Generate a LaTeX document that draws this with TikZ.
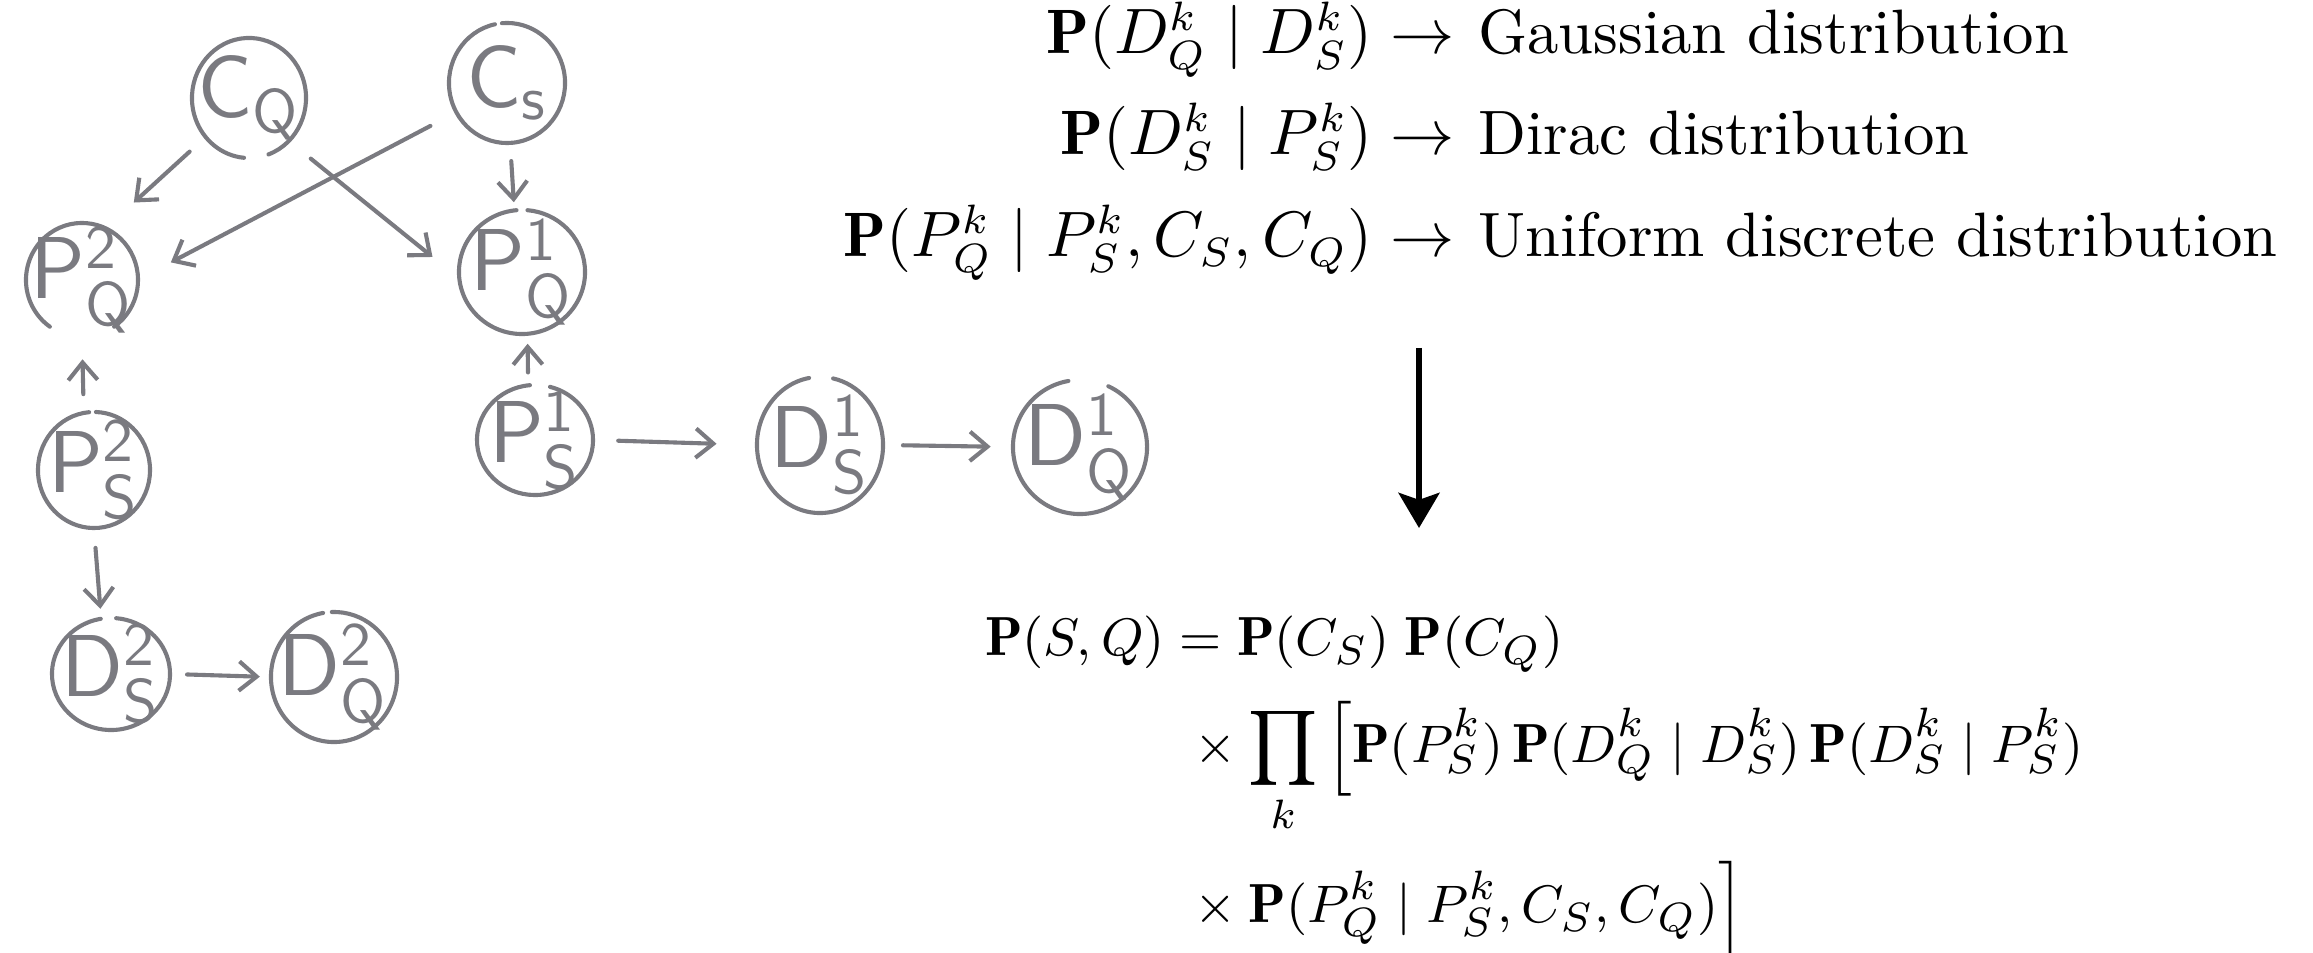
\documentclass[tikz,border=0pt]{standalone}
\usepackage{amsmath}
\usepackage{fontspec}
\usetikzlibrary{shapes.geometric,arrows.meta,calc}
\definecolor{pen}{RGB}{122,122,128}
\tikzset{
  hnode/.style={ellipse, inner sep=0pt, draw=none},
  hline/.style={draw=pen, line width=0.7pt, line cap=round},
  harrow/.style={hline, -{Straight Barb[length=3pt,width=5pt,line width=0.7pt]}},
  hlab/.style={text=pen, inner sep=0pt, font=\sffamily\fontsize{15}{17}\selectfont},
  eqtext/.style={font=\fontsize{10.7}{13}\selectfont, inner sep=0pt, anchor=base west},
  eqmath/.style={font=\fontsize{10.7}{13}\selectfont, inner sep=0pt, anchor=base east},
  joint/.style={font=\fontsize{9.4}{12}\selectfont, inner sep=0pt, anchor=base west},
  bigarrow/.style={line width=0.9pt, -{Stealth[length=6pt,width=7pt,inset=1.2pt]}}
}
\newcommand\hcirc[8]{%
  \node[hnode, minimum width={2*#4*0.06mm}, minimum height={2*#5*0.06mm}] (#1) at (#2,#3) {};
  \node[hlab] (#1-lab) at (#1.center) {#8};
  \draw[hline] (#1.center) ++(#7:{#4*0.06mm} and {#5*0.06mm})
     arc[start angle=#7, end angle={#6+360}, x radius={#4*0.06mm}, y radius={#5*0.06mm}];
}
\begin{document}
\begin{tikzpicture}[x=0.006cm,y=-0.006cm]
\useasboundingbox (0,0) rectangle (2313,953);

% hand-drawn graph
\hcirc{CQ}{249}{98}{57}{60}{265}{290}{$\mathsf{C}_{\mathsf{Q}}$}
\hcirc{CS}{507}{83}{58}{60}{95}{102}{$\mathsf{C}_{\mathsf{s}}$}
\hcirc{PQ2}{82}{280}{56}{57}{235}{305}{$\mathsf{P}^{\mathsf{2}}_{\mathsf{Q}}$}
\hcirc{PQ1}{522}{272}{63}{62}{85}{95}{$\mathsf{P}^{\mathsf{1}}_{\mathsf{Q}}$}
\hcirc{PS2}{94}{470}{56}{58}{88}{95}{$\mathsf{P}^{\mathsf{2}}_{\mathsf{S}}$}
\hcirc{PS1}{535}{440}{58}{55}{75}{95}{$\mathsf{P}^{\mathsf{1}}_{\mathsf{S}}$}
\hcirc{DS1}{820}{445}{63}{68}{78}{100}{$\mathsf{D}^{\mathsf{1}}_{\mathsf{S}}$}
\hcirc{DQ1}{1080}{447}{67}{67}{65}{100}{$\mathsf{D}^{\mathsf{1}}_{\mathsf{Q}}$}
\hcirc{DS2}{111}{674}{59}{56}{85}{100}{$\mathsf{D}^{\mathsf{2}}_{\mathsf{S}}$}
\hcirc{DQ2}{334}{677}{63}{65}{92}{100}{$\mathsf{D}^{\mathsf{2}}_{\mathsf{Q}}$}

\draw[harrow, shorten <=3.5pt, shorten >=6.3pt] (CQ.222) -- (PQ2.65);
\draw[harrow, shorten <=4.8pt, shorten >=6.1pt] (CS.210) -- (PQ2.1);
\draw[harrow, shorten <=4.6pt, shorten >=5.6pt] (CQ.-47) -- (PQ1.185);
\draw[harrow, shorten <=2.9pt, shorten >=1.2pt] (CS.-87) -- (PQ1.97);
\draw[harrow, shorten <=3pt, shorten >=3.6pt] (PS2.100) -- (PQ2.south);
\draw[harrow, shorten <=2pt, shorten >=1.5pt] (PS1.97) -- (PQ1.-85);
\draw[harrow, shorten <=4.1pt, shorten >=6.7pt] (PS1.east) -- (DS1.west);
\draw[harrow, shorten <=3.2pt, shorten >=3.6pt] (DS1.east) -- (DQ1.west);
\draw[harrow, shorten <=3.2pt, shorten >=1.5pt] (PS2.south) -- (DS2.100);
\draw[harrow, shorten <=2.7pt, shorten >=1.7pt] (DS2.east) -- (DQ2.west);

% distributions
\node[eqmath] (m1) at (1456,54) {$\mathbf{P}(D^k_Q\mid D^k_S)\rightarrow$};
\node[eqtext] (g1) at (1477,54) {Gaussian distribution};
\node[eqmath] (m2) at (1456,155) {$\mathbf{P}(D^k_S\mid P^k_S)\rightarrow$};
\node[eqtext] (g2) at (1477,155) {Dirac distribution};
\node[eqmath] (m3) at (1456,257) {$\mathbf{P}(P^k_Q\mid P^k_S, C_S, C_Q)\rightarrow$};
\node[eqtext] (g3) at (1477,257) {Uniform discrete distribution};

% big arrow
\coordinate (a1) at (1419,348);
\coordinate (a2) at (1419,528);
\draw[bigarrow] (a1) -- (a2);

% joint distribution
\node[joint] (j1) at (984,655) {$\mathbf{P}(S,Q)=\mathbf{P}(C_S)\;\mathbf{P}(C_Q)$};
\node[joint] (j2) at (1193,762) {$\smash[b]{\displaystyle\times\mkern1mu\prod_k\Big[\mathbf{P}(P^k_S)\,\mathbf{P}(D^k_Q\mid D^k_S)\,\mathbf{P}(D^k_S\mid P^k_S)}$};
\node[joint] (j3) at (1193,922) {$\times\mkern4mu\mathbf{P}(P^k_Q\mid P^k_S, C_S, C_Q)\smash[t]{\Big]}$};
\end{tikzpicture}
\end{document}
